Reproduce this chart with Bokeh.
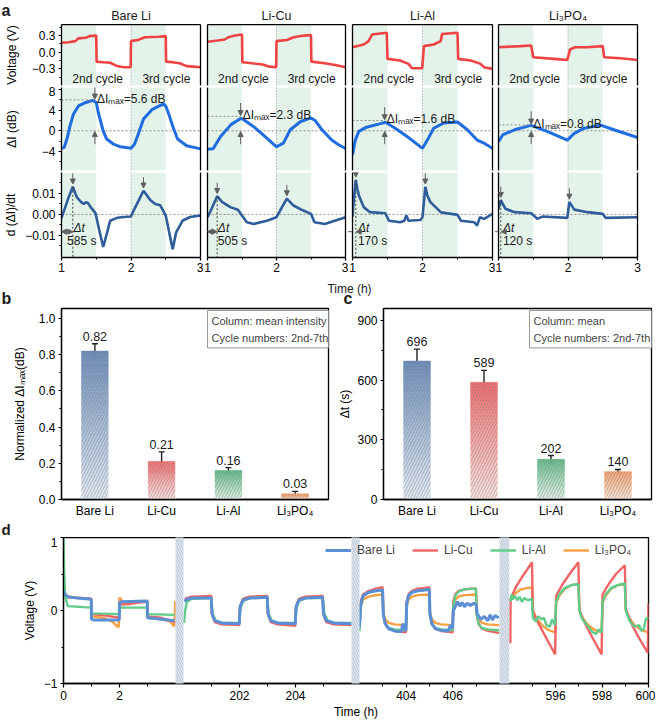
import math
from bokeh.plotting import figure
from bokeh.models import (Range1d, FactorRange, FixedTicker, LinearAxis, Span, BoxAnnotation,
                          Arrow, NormalHead, Label, Legend, LegendItem, ColumnDataSource,
                          Whisker, TeeHead)
from bokeh.layouts import row, column
from bokeh.core.properties import value
from bokeh.embed import file_html
from bokeh.resources import INLINE

FONT = "Liberation Sans"
MINUS = "\u2212"

# ============================ DATA ============================
MATERIALS = ["Bare Li", "Li-Cu", "Li-Al", "Li\u2083PO\u2084"]

# ---- panel a: (time h, value) ----
VOLT_BARE = [(1.0, 0.17), (1.1, 0.18), (1.2, 0.2), (1.24, 0.25), (1.35, 0.26), (1.4, 0.29), (1.5, 0.3),
             (1.505, -0.17), (1.6, -0.18), (1.7, -0.19), (1.75, -0.22), (1.8, -0.25), (1.9, -0.27),
             (1.995, -0.27), (2.0, 0.2), (2.1, 0.22), (2.2, 0.27), (2.4, 0.28), (2.5, 0.29),
             (2.505, -0.17), (2.6, -0.18), (2.7, -0.2), (2.8, -0.25), (2.9, -0.26), (3.0, -0.27)]
VOLT_CU = [(1.0, 0.19), (1.15, 0.21), (1.25, 0.23), (1.3, 0.27), (1.4, 0.3), (1.5, 0.32), (1.505, -0.18),
           (1.65, -0.2), (1.8, -0.22), (1.9, -0.26), (1.995, -0.27), (2.0, 0.2), (2.15, 0.22),
           (2.25, 0.27), (2.4, 0.3), (2.5, 0.31), (2.505, -0.17), (2.7, -0.2), (2.85, -0.23), (3.0, -0.27)]
VOLT_AL = [(1.0, 0.09), (1.16, 0.14), (1.23, 0.2), (1.28, 0.32), (1.49, 0.35), (1.5, -0.12), (1.68, -0.15),
           (1.8, -0.21), (1.85, -0.29), (1.995, -0.29), (2.02, 0.11), (2.16, 0.14), (2.26, 0.2),
           (2.28, 0.33), (2.5, 0.35), (2.51, -0.12), (2.69, -0.15), (2.83, -0.21), (2.88, -0.27), (3.0, -0.3)]
VOLT_PO = [(1.0, 0.09), (1.32, 0.11), (1.47, 0.12), (1.5, -0.09), (1.8, -0.12), (1.99, -0.14), (2.03, 0.05),
           (2.1, 0.09), (2.28, 0.09), (2.5, 0.11), (2.52, -0.09), (2.76, -0.11), (3.0, -0.14)]

DI_BARE = [(1.0, -3.4), (1.04, -3.2), (1.08, -1.5), (1.12, 0.8), (1.17, 3.2), (1.25, 4.9), (1.35, 5.5),
           (1.45, 5.9), (1.5, 5.5), (1.53, 3.5), (1.6, 0.0), (1.65, -1.6), (1.75, -2.6), (1.85, -3.1),
           (2.0, -3.4), (2.05, -2.6), (2.1, -0.8), (2.18, 2.3), (2.3, 4.1), (2.4, 4.8), (2.47, 5.2),
           (2.5, 4.8), (2.55, 3.0), (2.6, 0.9), (2.67, -1.6), (2.8, -2.9), (3.0, -3.5)]
DI_CU = [(1.0, -3.6), (1.08, -3.5), (1.19, -1.1), (1.34, 1.2), (1.48, 2.4), (1.52, 2.2), (1.67, 0.8),
         (1.86, -1.4), (2.0, -3.1), (2.1, -2.4), (2.2, 0.2), (2.35, 1.8), (2.5, 2.5), (2.56, 2.0),
         (2.66, 0.2), (2.8, -1.8), (2.9, -2.7), (3.0, -3.4)]
DI_AL = [(1.0, -4.7), (1.04, -1.8), (1.09, -0.1), (1.2, 0.7), (1.4, 1.4), (1.47, 1.65), (1.61, 0.5),
         (1.78, -1.1), (2.0, -3.4), (2.07, -1.8), (2.16, 0.5), (2.3, 1.5), (2.5, 1.7), (2.64, 0.2),
         (2.78, -1.8), (2.88, -2.4), (3.0, -3.4)]
DI_PO = [(1.0, -2.1), (1.06, -0.8), (1.23, 0.2), (1.47, 1.05), (1.7, -0.1), (1.99, -1.8), (2.09, -0.5),
         (2.23, 0.5), (2.47, 1.1), (2.66, 0.2), (3.0, -1.3)]

DT_BARE = [(1.0, -0.0016), (1.05, 0.003), (1.1, 0.008), (1.163, 0.0132), (1.2, 0.01), (1.225, 0.008),
           (1.28, 0.006), (1.32, 0.005), (1.35, 0.0058), (1.38, 0.0055), (1.42, 0.0035), (1.49, 0.0006),
           (1.54, -0.007), (1.6, -0.0155), (1.65, -0.0094), (1.7, -0.003), (1.8, -0.0016), (1.9, -0.0012),
           (2.0, -0.001), (2.04, 0.002), (2.1, 0.006), (2.18, 0.0113), (2.28, 0.0068), (2.35, 0.005),
           (2.42, 0.0044), (2.5, -0.0005), (2.57, -0.0118), (2.6, -0.0166), (2.65, -0.0085),
           (2.74, -0.003), (2.85, -0.0012), (3.0, -0.0005)]
DT_CU = [(1.0, -0.0013), (1.05, 0.002), (1.14, 0.0087), (1.21, 0.006), (1.33, 0.0035), (1.44, 0.0023),
         (1.5, -0.0005), (1.57, -0.0037), (1.67, -0.0045), (1.86, -0.003), (2.0, -0.0013), (2.08, 0.0035),
         (2.15, 0.0076), (2.24, 0.0044), (2.38, 0.002), (2.5, 0.0003), (2.55, -0.0037), (2.7, -0.0045),
         (2.8, -0.0035), (3.0, -0.0013)]
DT_AL = [(1.0, -0.001), (1.01, 0.0035), (1.047, 0.0165), (1.07, 0.012), (1.09, 0.0092), (1.16, 0.0035),
         (1.25, 0.0011), (1.47, 0.0006), (1.52, -0.003), (1.68, -0.0037), (1.74, -0.003), (1.77, -0.0005),
         (1.8, -0.003), (1.97, -0.0026), (2.0, -0.0013), (2.04, 0.0132), (2.07, 0.009), (2.11, 0.006),
         (2.26, 0.0011), (2.5, -0.0002), (2.55, -0.003), (2.74, -0.0037), (2.78, -0.0053),
         (2.82, -0.0013), (2.88, -0.0021), (3.0, 0.0003)]
DT_PO = [(1.0, 0.0027), (1.033, 0.0068), (1.1, 0.0027), (1.23, 0.0011), (1.47, 0.0006), (1.56, -0.0021),
         (1.63, -0.001), (1.99, -0.0016), (2.02, 0.006), (2.09, 0.0023), (2.28, 0.0011), (2.5, 0.0003),
         (2.54, -0.0016), (3.0, -0.0013)]

VOLT = [VOLT_BARE, VOLT_CU, VOLT_AL, VOLT_PO]
DI = [DI_BARE, DI_CU, DI_AL, DI_PO]
DT = [DT_BARE, DT_CU, DT_AL, DT_PO]

DI_MAX_TEXT = ["5.6", "2.3", "1.6", "0.8"]        # dB
DI_PEAK_T = [1.48, 1.48, 1.46, 1.47]               # h
DI_PEAK_LEVEL = [6.0, 2.8, 2.0, 1.15]              # dB
DT_SECONDS = [585, 505, 170, 120]                  # s
DT_PEAK1 = [0.0132, 0.0087, 0.0165, 0.0068]
DT_PEAK2 = [(2.18, 0.0113), (2.15, 0.0076), (2.04, 0.0132), (2.02, 0.006)]

# ---- panel b / c ----
B_VALS = [0.82, 0.21, 0.16, 0.03]
B_ERR = [0.04, 0.053, 0.016, 0.015]
C_VALS = [696, 589, 202, 140]
C_ERR = [60, 60, 19, 11]

# ---- panel d: (time h, voltage V) per displayed time window ----
D_BARE = [
    [(0.0, 0.27), (0.05, 0.22), (0.15, 0.19), (0.5, 0.17), (0.99, 0.155), (1.0, -0.12), (1.1, -0.13),
     (1.99, -0.13), (2.0, 0.11), (2.1, 0.12), (2.99, 0.13), (3.0, -0.1), (3.5, -0.12), (3.97, -0.14)],
    [(200.05, 0.12), (200.1, 0.15), (200.3, 0.17), (200.99, 0.17), (201.02, -0.05), (201.12, -0.14),
     (201.35, -0.17), (201.99, -0.18), (202.02, 0.05), (202.12, 0.14), (202.35, 0.17), (202.99, 0.18),
     (203.02, -0.05), (203.12, -0.14), (203.35, -0.17), (203.99, -0.18), (204.02, 0.05), (204.12, 0.14),
     (204.35, 0.17), (204.97, 0.18), (205.0, -0.05), (205.1, -0.14), (205.35, -0.17), (206.0, -0.18)],
    [(402.0, -0.22), (402.05, 0.08), (402.15, 0.2), (402.4, 0.25), (402.7, 0.27), (402.99, 0.28),
     (403.02, -0.05), (403.1, -0.18), (403.25, -0.25), (403.5, -0.28), (403.8, -0.29), (403.85, -0.18),
     (403.9, -0.22), (403.99, -0.28), (404.02, 0.1), (404.1, 0.2), (404.25, 0.25), (404.5, 0.27),
     (404.8, 0.28), (404.99, 0.29), (405.02, -0.05), (405.1, -0.18), (405.25, -0.25), (405.5, -0.27),
     (405.8, -0.28), (405.9, -0.2), (405.99, -0.25), (406.02, 0.0), (406.1, 0.05), (406.2, 0.12),
     (406.3, 0.06), (406.4, 0.11), (406.5, 0.05), (406.6, 0.1), (406.75, 0.07), (406.9, 0.1),
     (407.0, 0.08), (407.05, -0.05), (407.2, -0.12), (407.35, -0.08), (407.5, -0.14), (407.6, -0.06),
     (407.7, -0.13), (407.8, -0.07), (407.97, -0.1)],
    [],
]
D_CU = [
    [(0.0, 0.22), (0.1, 0.18), (0.99, 0.16), (1.0, -0.05), (1.5, -0.07), (1.99, -0.1), (2.0, 0.08),
     (2.4, 0.09), (2.99, 0.13), (3.0, -0.08), (3.5, -0.1), (3.97, -0.16)],
    [(200.05, 0.14), (200.1, 0.17), (200.3, 0.19), (200.99, 0.2), (201.02, -0.06), (201.12, -0.16),
     (201.35, -0.19), (201.99, -0.2), (202.02, 0.06), (202.12, 0.16), (202.35, 0.19), (202.99, 0.2),
     (203.02, -0.06), (203.12, -0.16), (203.35, -0.19), (203.99, -0.21), (204.02, 0.06), (204.12, 0.16),
     (204.35, 0.19), (204.97, 0.2), (205.0, -0.06), (205.1, -0.16), (205.35, -0.19), (206.0, -0.2)],
    [(402.0, -0.25), (402.05, 0.12), (402.15, 0.22), (402.4, 0.27), (402.7, 0.3), (402.99, 0.32),
     (403.02, -0.05), (403.1, -0.18), (403.25, -0.25), (403.5, -0.28), (403.99, -0.3), (404.02, 0.12),
     (404.1, 0.22), (404.25, 0.27), (404.5, 0.3), (404.8, 0.31), (404.99, 0.32), (405.02, -0.05),
     (405.1, -0.18), (405.25, -0.25), (405.5, -0.28), (405.99, -0.3), (406.02, 0.12), (406.1, 0.22),
     (406.25, 0.27), (406.5, 0.29), (406.8, 0.3), (406.99, 0.3), (407.02, -0.05), (407.1, -0.18),
     (407.25, -0.25), (407.5, -0.28), (408.0, -0.31)],
    [(594.05, -0.45), (594.06, 0.16), (594.3, 0.33), (594.6, 0.48), (594.98, 0.66), (595.02, -0.02),
     (595.3, -0.2), (595.6, -0.38), (595.98, -0.6), (596.02, 0.2), (596.3, 0.36), (596.6, 0.5),
     (596.98, 0.66), (597.02, 0.0), (597.3, -0.2), (597.6, -0.38), (597.98, -0.6), (598.02, 0.22),
     (598.3, 0.37), (598.6, 0.5), (598.98, 0.62), (599.02, 0.02), (599.3, -0.2), (599.6, -0.38),
     (599.97, -0.58), (600.0, 0.1)],
]
D_AL = [
    [(0.0, 1.0), (0.02, 0.6), (0.06, 0.2), (0.15, 0.06), (0.99, 0.04), (1.0, -0.04), (1.99, -0.05),
     (2.0, 0.04), (2.99, 0.04), (3.0, -0.05), (3.97, -0.06)],
    [(200.02, -0.17), (200.06, 0.0), (200.12, 0.12), (200.3, 0.16), (200.99, 0.17), (201.04, -0.04),
     (201.15, -0.14), (201.4, -0.17), (201.99, -0.17), (202.04, 0.04), (202.15, 0.14), (202.4, 0.17),
     (202.99, 0.18), (203.04, -0.04), (203.15, -0.14), (203.4, -0.17), (203.99, -0.17), (204.04, 0.04),
     (204.15, 0.14), (204.4, 0.17), (204.97, 0.17), (205.03, -0.04), (205.15, -0.14), (205.4, -0.17),
     (206.0, -0.17)],
    [(402.0, -0.28), (402.05, 0.05), (402.15, 0.2), (402.4, 0.25), (402.7, 0.27), (402.99, 0.28),
     (403.02, -0.05), (403.1, -0.18), (403.25, -0.24), (403.5, -0.26), (403.99, -0.27), (404.02, 0.05),
     (404.1, 0.2), (404.25, 0.25), (404.5, 0.27), (404.99, 0.29), (405.02, -0.05), (405.1, -0.18),
     (405.25, -0.24), (405.5, -0.26), (405.99, -0.27), (406.02, 0.05), (406.1, 0.2), (406.25, 0.26),
     (406.5, 0.29), (406.99, 0.3), (407.02, -0.05), (407.1, -0.18), (407.25, -0.24), (407.5, -0.26),
     (408.0, -0.27)],
    [(594.05, 0.12), (594.1, 0.22), (594.15, 0.15), (594.25, 0.2), (594.35, 0.14), (594.45, 0.19),
     (594.55, 0.12), (594.65, 0.17), (594.8, 0.14), (594.98, 0.16), (595.02, -0.1), (595.15, -0.15),
     (595.25, -0.08), (595.4, -0.12), (595.5, -0.1), (595.6, -0.2), (595.75, -0.22), (595.85, -0.12),
     (595.98, -0.2), (596.02, 0.12), (596.15, 0.22), (596.4, 0.31), (596.7, 0.35), (596.98, 0.36),
     (597.02, 0.0), (597.15, -0.12), (597.4, -0.22), (597.6, -0.3), (597.75, -0.32), (597.85, -0.26),
     (597.98, -0.3), (598.02, 0.12), (598.15, 0.22), (598.4, 0.31), (598.7, 0.35), (598.98, 0.37),
     (599.02, 0.0), (599.2, -0.15), (599.4, -0.22), (599.6, -0.2), (599.7, -0.28), (599.8, -0.25),
     (599.88, -0.12), (599.95, -0.1), (600.0, -0.12)],
]
D_PO = [
    [(0.0, 0.45), (0.03, 0.25), (0.15, 0.19), (0.99, 0.16), (1.0, -0.08), (1.4, -0.1), (1.7, -0.14),
     (1.97, -0.23), (2.0, 0.18), (2.15, 0.1), (2.99, 0.12), (3.0, -0.1), (3.5, -0.12), (3.8, -0.15),
     (3.96, -0.22), (3.99, 0.13)],
    [(200.05, 0.13), (200.1, 0.16), (200.3, 0.18), (200.99, 0.19), (201.02, -0.04), (201.12, -0.14),
     (201.35, -0.18), (201.99, -0.19), (202.02, 0.05), (202.12, 0.15), (202.35, 0.18), (202.99, 0.19),
     (203.02, -0.04), (203.12, -0.14), (203.35, -0.18), (203.99, -0.19), (204.02, 0.05), (204.12, 0.15),
     (204.35, 0.18), (204.97, 0.19), (205.0, -0.04), (205.1, -0.14), (205.35, -0.18), (206.0, -0.19)],
    [(402.0, -0.18), (402.05, 0.05), (402.15, 0.15), (402.4, 0.19), (402.7, 0.21), (402.99, 0.22),
     (403.02, -0.02), (403.1, -0.12), (403.25, -0.17), (403.5, -0.19), (403.99, -0.2), (404.02, 0.05),
     (404.1, 0.15), (404.25, 0.19), (404.5, 0.21), (404.99, 0.22), (405.02, -0.02), (405.1, -0.12),
     (405.25, -0.17), (405.5, -0.19), (405.99, -0.2), (406.02, 0.05), (406.1, 0.15), (406.25, 0.19),
     (406.5, 0.21), (406.99, 0.22), (407.02, -0.02), (407.1, -0.12), (407.25, -0.17), (407.5, -0.19),
     (408.0, -0.2)],
    [(594.05, 0.15), (594.2, 0.22), (594.5, 0.29), (594.98, 0.32), (595.02, 0.02), (595.15, -0.1),
     (595.4, -0.2), (595.7, -0.27), (595.98, -0.3), (596.02, 0.1), (596.15, 0.2), (596.4, 0.3),
     (596.7, 0.35), (596.98, 0.36), (597.02, 0.02), (597.15, -0.1), (597.4, -0.2), (597.7, -0.27),
     (597.98, -0.3), (598.02, 0.1), (598.15, 0.2), (598.4, 0.3), (598.7, 0.35), (598.98, 0.36),
     (599.02, 0.02), (599.15, -0.1), (599.4, -0.2), (599.7, -0.27), (600.0, -0.3)],
]
D_SERIES = [D_BARE, D_CU, D_AL, D_PO]
D_TIME_WINDOWS = [(0, 4), (200, 206), (402, 408), (594, 600)]
D_MAJOR_T = [0, 2, 202, 204, 404, 406, 596, 598, 600]
D_MINOR_T = [1, 3, 201, 203, 205, 403, 405, 407, 595, 597, 599]

# ============================ STYLE ============================
VOLT_C = "#ef4343"
DI_C = "#1f6de0"
DT_C = "#2f5d9c"
SHADE = "#e3f3ea"
ANN = "#5f5f5f"
GUIDE = "#8f8f8f"
BAR_TOP = ["#6a8cba", "#f06a6a", "#5fb985", "#f4a070"]
BAR_BOT = ["#e3ebf5", "#fbe3e3", "#e2f2e8", "#fde8dc"]
D_COLORS = ["#5a8fd6", "#f26464", "#5fcc8a", "#f7a043"]
D_WIDTHS = [3.0, 2.4, 2.4, 2.4]
# window placement inside panel d frame (pixels of the 585 px frame)
D_WINDOW_PX = [(0, 112), (120, 288), (296, 436), (445.7, 585)]

# layout (pixels)
COL_FRAME_W = [139, 138, 140, 139]
COL_BL = [61, 4, 4, 3]
COL_BR = [3, 3, 3, 18]
TOTAL_W = 655


def xy(pairs):
    return [p[0] for p in pairs], [p[1] for p in pairs]


def base_fig(w, h, xr, yr, bl, br, bt, bb, **kw):
    p = figure(width=w, height=h, x_range=xr, y_range=yr, output_backend="svg",
               toolbar_location=None, min_border_left=bl, min_border_right=br,
               min_border_top=bt, min_border_bottom=bb, **kw)
    try:
        p.frame_align = False
    except Exception:
        pass
    p.xgrid.visible = False
    p.ygrid.visible = False
    p.outline_line_color = None
    p.background_fill_color = "white"
    p.border_fill_color = "white"
    return p


def text_strip(w, h):
    return base_fig(w, h, Range1d(0, w), Range1d(h, 0), 0, 0, 0, 0,
                    x_axis_location=None, y_axis_location=None)


def style_axis(ax, tick_size="12px"):
    ax.axis_line_color = "black"
    ax.axis_line_width = 1.3
    ax.major_tick_line_color = "black"
    ax.major_tick_line_width = 1.2
    ax.minor_tick_line_color = "black"
    ax.minor_tick_line_width = 1.0
    ax.major_tick_in = 0
    ax.major_tick_out = 3
    ax.minor_tick_in = 0
    ax.minor_tick_out = 2
    ax.major_label_standoff = 3
    ax.major_label_text_font = FONT
    ax.major_label_text_font_size = tick_size
    ax.major_label_text_color = "black"
    ax.axis_label_text_font = FONT
    ax.axis_label_text_font_size = "12px"
    ax.axis_label_text_font_style = "normal"
    ax.axis_label_text_color = "black"


def plain_axis(ax):
    ax.ticker = FixedTicker(ticks=[], minor_ticks=[])
    ax.axis_line_color = "black"
    ax.axis_line_width = 1.3
    ax.major_tick_line_color = None
    ax.minor_tick_line_color = None
    ax.major_tick_in = 0
    ax.major_tick_out = 0
    ax.minor_tick_in = 0
    ax.minor_tick_out = 0
    ax.major_label_standoff = 0


def head():
    return NormalHead(size=5, fill_color=ANN, line_color=ANN, line_width=1)


def arrow(p, x0, y0, x1, y1, both=False):
    p.add_layout(Arrow(x_start=x0, y_start=y0, x_end=x1, y_end=y1, end=head(),
                       start=head() if both else None, line_color=ANN, line_width=1))


def txt(p, x, y, s, size="11px", align="left", baseline="middle", style="normal", color="#1a1a1a"):
    p.text(x=[x], y=[y], text=[s], text_font=value(FONT), text_font_size=value(size),
           text_align=value(align), text_baseline=value(baseline), text_font_style=value(style),
           text_color=color)


def shade_and_guides(p, zero=True):
    for a, b in [(1, 1.5), (2, 2.5)]:
        p.add_layout(BoxAnnotation(left=a, right=b, fill_color=SHADE, fill_alpha=1,
                                   line_color=None, level="underlay"))
    p.add_layout(Span(location=2, dimension="height", line_color=GUIDE, line_dash="1 2",
                      line_width=1, level="underlay"))
    if zero:
        p.add_layout(Span(location=0, dimension="width", line_color=GUIDE, line_dash="2 2",
                          line_width=1, level="underlay"))


# ============================ HEADER (a + column names) ============================
col_left = []
acc = 0
for i in range(4):
    col_left.append(acc + COL_BL[i])
    acc += COL_BL[i] + COL_FRAME_W[i] + COL_BR[i]
header = text_strip(TOTAL_W, 24)
txt(header, 1, 10, "a", size="16px", style="bold")
for i, name in enumerate(MATERIALS):
    txt(header, col_left[i] + COL_FRAME_W[i] / 2, 15, name, size="12.5px", align="center")

# ============================ PANEL a ============================
a_cols = []
for i, name in enumerate(MATERIALS):
    w = COL_BL[i] + COL_FRAME_W[i] + COL_BR[i]

    # --- voltage row ---
    pv = base_fig(w, 62, Range1d(1, 3), Range1d(-0.6, 0.5), COL_BL[i], COL_BR[i], 0, 1,
                  x_axis_location=None)
    shade_and_guides(pv, zero=False)
    vx, vy = xy(VOLT[i])
    pv.line(vx, vy, line_color=VOLT_C, line_width=2.6)
    txt(pv, 1.52, -0.49, "2nd cycle", size="12px", align="center")
    txt(pv, 2.51, -0.49, "3rd cycle", size="12px", align="center")

    # --- delta I row ---
    pi = base_fig(w, 85, Range1d(1, 3), Range1d(-7.7, 8.4), COL_BL[i], COL_BR[i], 1, 1,
                  x_axis_location=None)
    shade_and_guides(pi)
    ix, iy = xy(DI[i])
    pi.line(ix, iy, line_color=DI_C, line_width=3)
    pt, lev = DI_PEAK_T[i], DI_PEAK_LEVEL[i]
    pi.segment(x0=[1], y0=[lev], x1=[pt], y1=[lev], line_color=GUIDE, line_dash="2 2", line_width=1)
    arrow(pi, pt, lev + 2.6, pt, lev + 0.15)
    arrow(pi, pt, -2.6, pt, -0.15)
    txt(pi, pt + 0.03, lev + 0.2, "\u0394I\u2098\u2090\u2093=" + DI_MAX_TEXT[i] + " dB",
        size="12px", baseline="middle")

    # --- dI/dt row ---
    pd_ = base_fig(w, 107, Range1d(1, 3), Range1d(-0.0205, 0.02), COL_BL[i], COL_BR[i], 1, 21)
    shade_and_guides(pd_)
    dx, dy = xy(DT[i])
    pd_.line(dx, dy, line_color=DT_C, line_width=2.6)
    t1 = 1 + DT_SECONDS[i] / 3600.0
    v1 = DT_PEAK1[i]
    t2, v2 = DT_PEAK2[i]
    for (tp, vp) in [(t1, v1), (t2, v2)]:
        arrow(pd_, tp, min(vp + 0.0065, 0.0196), tp, vp + 0.0013)
    pd_.segment(x0=[t1], y0=[v1], x1=[t1], y1=[-0.0205], line_color="#444444",
                line_dash="2 2", line_width=1)
    if DT_SECONDS[i] > 300:
        arrow(pd_, 1.0, -0.0082, t1, -0.0082, both=True)
        txt(pd_, t1 + 0.01, -0.0064, "\u0394t", size="12px", style="italic")
        txt(pd_, 1.08 if i == 0 else t1 + 0.01, -0.0128, f"{DT_SECONDS[i]} s", size="12px")
    else:
        arrow(pd_, t1 + 0.09, -0.0082, t1 + 0.005, -0.0082)
        arrow(pd_, 0.93, -0.0082, 0.995, -0.0082)
        txt(pd_, t1 + 0.03, -0.0064, "\u0394t", size="12px", style="italic")
        txt(pd_, t1 + 0.03, -0.0128, f"{DT_SECONDS[i]} s", size="12px")

    # --- axes ---
    for p in (pv, pi, pd_):
        ra = LinearAxis()
        plain_axis(ra)
        p.add_layout(ra, "right")
    ta = LinearAxis()
    plain_axis(ta)
    pv.add_layout(ta, "above")

    if i == 0:
        for p, ticks, minor, labels, lab, so in [
            (pv, [-0.3, 0, 0.3], [-0.45, -0.15, 0.15, 0.45], [MINUS + "0.3", "0.0", "0.3"], "Voltage (V)", 10),
            (pi, [-4, 0, 4, 8], [-6, -2, 2, 6], [MINUS + "4", "0", "4", "8"], "\u0394I (dB)", 20),
            (pd_, [-0.01, 0, 0.01], [-0.015, -0.005, 0.005, 0.015], [MINUS + "0.01", "0.00", "0.01"],
             "d (\u0394I)/dt", 4),
        ]:
            ax = p.yaxis[0]
            style_axis(ax)
            ax.ticker = FixedTicker(ticks=ticks, minor_ticks=minor)
            ax.major_label_overrides = dict(zip(ticks, labels))
            ax.axis_label = lab
            ax.axis_label_standoff = so
    else:
        for p in (pv, pi, pd_):
            plain_axis(p.yaxis[0])

    xa = pd_.xaxis[0]
    style_axis(xa)
    xa.ticker = FixedTicker(ticks=[1, 2, 3], minor_ticks=[1.5, 2.5])
    xa.major_label_standoff = 2
    a_cols.append(column(pv, pi, pd_))

# strip with shared x label of panel a and the letters b, c
a_center = (col_left[0] + col_left[3] + COL_FRAME_W[3]) / 2
B_W = 61 + 267 + 2
strip = text_strip(TOTAL_W, 28)
txt(strip, a_center, 10, "Time (h)", size="12px", align="center")
txt(strip, 1, 28, "b", size="16px", style="bold", baseline="bottom")
txt(strip, B_W + 53 - 40, 28, "c", size="16px", style="bold", baseline="bottom")


# ============================ PANELS b, c ============================
def lerp_hex(c0, c1, f):
    a = [int(c0[k:k + 2], 16) for k in (1, 3, 5)]
    b = [int(c1[k:k + 2], 16) for k in (1, 3, 5)]
    return "#%02x%02x%02x" % tuple(round(a[j] + (b[j] - a[j]) * f) for j in range(3))


def bar_panel(vals, errs, yend, ticks, minor, labels, ylabel, so, w, bl, br, boxtext, vfmt):
    p = base_fig(w, 214, FactorRange(*MATERIALS), Range1d(0, yend), bl, br, 2, 18)
    p.outline_line_color = "black"
    p.outline_line_width = 1.3
    N = 40
    sx, sb, st, sc = [], [], [], []
    for k_bar, (cat, v) in enumerate(zip(MATERIALS, vals)):
        for k in range(N):
            sx.append(cat)
            sb.append(v * k / N)
            st.append(v * (k + 1) / N)
            sc.append(lerp_hex(BAR_BOT[k_bar], BAR_TOP[k_bar], (k + 0.5) / N))
    src = ColumnDataSource(dict(x=sx, bottom=sb, top=st, color=sc))
    p.vbar(x="x", bottom="bottom", top="top", width=0.4, fill_color="color", line_color="color",
           line_width=0.5, source=src)
    p.vbar(x=MATERIALS, top=vals, width=0.4, fill_alpha=0, line_color=None, hatch_pattern="/",
           hatch_color="#7a7a7a", hatch_alpha=0.55, hatch_scale=6, hatch_weight=0.8)
    up = [v + e for v, e in zip(vals, errs)]
    lo = [v - e for v, e in zip(vals, errs)]
    wsrc = ColumnDataSource(dict(base=MATERIALS, upper=up, lower=lo))
    p.add_layout(Whisker(source=wsrc, base="base", upper="upper", lower="lower",
                         line_color="#222222", line_width=1.4,
                         upper_head=TeeHead(size=6, line_color="#222222", line_width=1.4),
                         lower_head=TeeHead(size=6, line_color="#222222", line_width=1.4)))
    p.text(x=MATERIALS, y=up, text=[vfmt(v) for v in vals], text_font=value(FONT),
           text_font_size=value("12.5px"), text_align=value("center"), text_baseline=value("bottom"),
           y_offset=-3, text_color="#1a1a1a")
    ya = p.yaxis[0]
    style_axis(ya)
    ya.ticker = FixedTicker(ticks=ticks, minor_ticks=minor)
    ya.major_label_overrides = dict(zip(ticks, labels))
    ya.axis_label = ylabel
    ya.axis_label_standoff = so
    xa = p.xaxis[0]
    style_axis(xa)
    xa.major_tick_line_color = None
    xa.major_tick_out = 0
    xa.major_label_standoff = 4
    lab = Label(x=146, y=189, x_units="screen", y_units="screen", text=boxtext,
                text_font=FONT, text_font_size="11px", text_align="left", text_baseline="top",
                border_line_color="#9a9a9a", border_line_width=1, background_fill_color="white")
    for attr, val in [("padding", 4), ("text_line_height", 1.45)]:
        try:
            setattr(lab, attr, val)
        except Exception:
            pass
    p.add_layout(lab)
    return p


pb = bar_panel(B_VALS, B_ERR, 1.055, [0, 0.2, 0.4, 0.6, 0.8, 1.0], [0.1, 0.3, 0.5, 0.7, 0.9],
               ["0.0", "0.2", "0.4", "0.6", "0.8", "1.0"], "Normalized \u0394I\u2098\u2090\u2093(dB)", 9,
               B_W, 61, 2, "Column: mean intensity\nCycle numbers: 2nd-7th",
               lambda v: f"{v:.2f}")
pc = bar_panel(C_VALS, C_ERR, 960, [0, 300, 600, 900], [150, 450, 750],
               ["0", "300", "600", "900"], "\u0394t (s)", 2,
               TOTAL_W - B_W, 53, 4, "Column: mean\nCycle numbers: 2nd-7th",
               lambda v: f"{v:d}")

dstrip = text_strip(TOTAL_W, 17)
txt(dstrip, 1, 17, "d", size="15px", style="bold", baseline="bottom")


# ============================ PANEL d ============================
def to_px(t):
    for (t0, t1), (u0, u1) in zip(D_TIME_WINDOWS, D_WINDOW_PX):
        if t0 - 1e-9 <= t <= t1 + 1e-9:
            return u0 + (t - t0) * (u1 - u0) / (t1 - t0)
    return float("nan")


pdd = base_fig(TOTAL_W, 186, Range1d(0, 585), Range1d(-1, 1), 63, 7, 0, 40)
pdd.outline_line_color = "black"
pdd.outline_line_width = 1.3
renderers = {}
for k in [3, 1, 2, 0]:
    xs, ys = [], []
    for seg in D_SERIES[k]:
        if not seg:
            continue
        if xs:
            xs.append(float("nan"))
            ys.append(float("nan"))
        for t, v in seg:
            xs.append(to_px(t))
            ys.append(v)
    renderers[k] = pdd.line(xs, ys, line_color=D_COLORS[k], line_width=D_WIDTHS[k])

gaps_l = [D_WINDOW_PX[j][1] for j in range(3)]
gaps_r = [D_WINDOW_PX[j + 1][0] for j in range(3)]
pdd.quad(left=gaps_l, right=gaps_r, bottom=-1, top=1, fill_color="#dfe7f1", line_color=None,
         hatch_pattern="\\", hatch_color="#a3afc0", hatch_alpha=0.8, hatch_scale=5, hatch_weight=0.8,
         level="overlay")

ya = pdd.yaxis[0]
style_axis(ya)
ya.ticker = FixedTicker(ticks=[-1, 0, 1], minor_ticks=[-0.5, 0.5])
ya.major_label_overrides = {-1: MINUS + "1", 0: "0", 1: "1"}
ya.axis_label = "Voltage (V)"
ya.axis_label_standoff = 4
xa = pdd.xaxis[0]
style_axis(xa)
major_px = [to_px(t) for t in D_MAJOR_T]
minor_px = [to_px(t) for t in D_MINOR_T]
xa.ticker = FixedTicker(ticks=major_px, minor_ticks=minor_px)
xa.major_label_overrides = {u: str(t) for u, t in zip(major_px, D_MAJOR_T)}
xa.major_tick_out = 4
xa.minor_tick_out = 3
xa.major_label_standoff = 3
xa.axis_label = "Time (h)"
xa.axis_label_standoff = 2

legend = Legend(items=[LegendItem(label=MATERIALS[k], renderers=[renderers[k]]) for k in range(4)],
                orientation="horizontal", location=(262, 126), glyph_width=26, glyph_height=14,
                label_text_font=FONT, label_text_font_size="12px", spacing=17, label_standoff=6,
                background_fill_alpha=0, border_line_alpha=0, padding=0, margin=0)
pdd.add_layout(legend)

layout = column(header, row(*a_cols), strip, row(pb, pc), dstrip, pdd)
open("out.html", "w").write(file_html(layout, INLINE, title="chart"))
